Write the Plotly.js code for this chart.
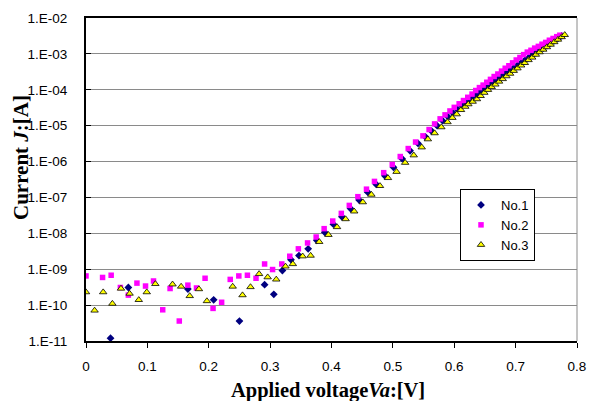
<!DOCTYPE html>
<html>
<head>
<meta charset="utf-8">
<script src="https://cdn.plot.ly/plotly-3.0.1.min.js"></script>
<style>
html,body{margin:0;padding:0;background:#fff;}
#chart{width:590px;height:401px;}
</style>
</head>
<body>
<div id="chart"></div>
<script>
// ---- Data ----
const seriesNames = ["No.1", "No.2", "No.3"];

// No.1 (navy diamonds)
const v1 = [0.040, 0.069, 0.166, 0.208, 0.250,
  0.291, 0.306, 0.320, 0.334, 0.347, 0.362, 0.376, 0.389, 0.403, 0.417, 0.431, 0.445, 0.459, 0.473,
  0.487, 0.501, 0.515, 0.528, 0.541, 0.553, 0.563,
  0.572, 0.581, 0.589, 0.597, 0.604, 0.611, 0.618, 0.625, 0.631, 0.637,
  0.643, 0.649, 0.655, 0.661, 0.667, 0.673, 0.679, 0.685, 0.691, 0.697, 0.703, 0.709, 0.715, 0.721,
  0.727, 0.733, 0.739, 0.745, 0.751, 0.757, 0.763, 0.769, 0.775];
const i1 = [1.2e-11, 3.1e-10, 2.8e-10, 1.4e-10, 3.6e-11,
  3.7e-10, 2.0e-10, 9.2e-10, 1.85e-9, 2.4e-9, 3.7e-9, 6.4e-9, 1.07e-8, 1.8e-8, 2.9e-8, 4.9e-8, 8.5e-8, 1.4e-7, 2.3e-7,
  4.0e-7, 6.9e-7, 1.2e-6, 2.0e-6, 3.2e-6, 4.9e-6, 7.1e-6,
  1.0e-5, 1.38e-5, 1.82e-5, 2.34e-5, 2.95e-5, 3.72e-5, 4.57e-5, 5.62e-5, 6.76e-5, 8.1e-5,
  9.5e-5, 1.12e-4, 1.32e-4, 1.55e-4, 1.82e-4, 2.14e-4, 2.51e-4, 2.95e-4, 3.47e-4, 4.07e-4, 4.79e-4, 5.62e-4, 6.61e-4, 7.76e-4,
  9.12e-4, 1.07e-3, 1.26e-3, 1.45e-3, 1.70e-3, 2.0e-3, 2.34e-3, 2.69e-3, 3.16e-3];

// No.2 (magenta squares)
const v2 = [0, 0.027, 0.041, 0.056, 0.069, 0.083, 0.097, 0.110, 0.125, 0.137, 0.152, 0.166, 0.180, 0.194, 0.207, 0.221, 0.235, 0.249, 0.263, 0.277,
  0.291, 0.304, 0.319, 0.332, 0.346, 0.361, 0.375, 0.388, 0.402, 0.416, 0.429, 0.443, 0.457, 0.470,
  0.485, 0.499, 0.512, 0.525, 0.537, 0.549, 0.559, 0.568, 0.577, 0.585, 0.593, 0.600, 0.608, 0.615, 0.622, 0.629,
  0.635, 0.641, 0.647, 0.653, 0.659, 0.665, 0.671, 0.677, 0.683, 0.689, 0.695, 0.701, 0.707, 0.713, 0.719,
  0.725, 0.731, 0.737, 0.743, 0.749, 0.755, 0.761, 0.767, 0.772];
const i2 = [6.5e-10, 5.9e-10, 6.8e-10, 3.1e-10, 1.9e-10, 4.1e-10, 3.4e-10, 4.7e-10, 7.4e-11, 2.9e-10, 3.6e-11, 3.6e-10, 3.0e-10, 5.6e-10, 8.1e-11, 1.2e-10, 5.2e-10, 6.5e-10, 6.8e-10, 5.6e-10,
  1.4e-9, 9.8e-10, 1.4e-9, 2.3e-9, 3.7e-9, 5.4e-9, 7.9e-9, 1.35e-8, 2.2e-8, 3.6e-8, 6.0e-8, 1.05e-7, 1.7e-7, 2.8e-7,
  4.9e-7, 8.3e-7, 1.38e-6, 2.3e-6, 3.5e-6, 5.2e-6, 7.8e-6, 1.12e-5, 1.55e-5, 2.0e-5, 2.57e-5, 3.24e-5, 4.07e-5, 5.01e-5, 6.17e-5, 7.59e-5,
  9.55e-5, 1.15e-4, 1.35e-4, 1.62e-4, 1.95e-4, 2.34e-4, 2.75e-4, 3.31e-4, 3.98e-4, 4.68e-4, 5.62e-4, 6.76e-4, 7.94e-4, 9.55e-4, 1.12e-3,
  1.26e-3, 1.45e-3, 1.62e-3, 1.86e-3, 2.09e-3, 2.40e-3, 2.69e-3, 3.02e-3, 3.31e-3];

// No.3 (yellow triangles)
const v3 = [0, 0.014, 0.028, 0.043, 0.057, 0.071, 0.086, 0.099, 0.113, 0.141, 0.155, 0.169, 0.184, 0.197, 0.239, 0.255, 0.268, 0.282,
  0.296, 0.310, 0.325, 0.337, 0.353, 0.366, 0.380, 0.395, 0.409, 0.423, 0.437, 0.451, 0.465, 0.479,
  0.492, 0.506, 0.520, 0.534, 0.547, 0.557, 0.568, 0.579, 0.589, 0.597, 0.604, 0.611, 0.618, 0.623, 0.630, 0.637,
  0.643, 0.649, 0.655, 0.661, 0.667, 0.673, 0.679, 0.685, 0.691, 0.697, 0.703, 0.709, 0.715, 0.721,
  0.727, 0.733, 0.739, 0.745, 0.751, 0.757, 0.763, 0.769, 0.775, 0.780];
const i3 = [2.3e-10, 7.1e-11, 2.3e-10, 1.1e-10, 2.9e-10, 2.1e-10, 1.4e-10, 2.3e-10, 3.9e-10, 3.8e-10, 3.3e-10, 1.8e-10, 2.8e-10, 1.3e-10, 3.3e-10, 1.9e-10, 3.2e-10, 7.4e-10,
  6.0e-10, 5.2e-10, 1.2e-9, 1.4e-9, 2.3e-9, 2.4e-9, 5.8e-9, 9.1e-9, 1.5e-8, 2.5e-8, 4.1e-8, 7.4e-8, 1.2e-7, 2.1e-7,
  3.5e-7, 5.2e-7, 9.3e-7, 1.5e-6, 2.5e-6, 4.2e-6, 6.2e-6, 9.1e-6, 1.26e-5, 1.66e-5, 2.09e-5, 2.75e-5, 3.39e-5, 3.98e-5, 4.68e-5, 5.5e-5,
  6.76e-5, 8.3e-5, 1.0e-4, 1.20e-4, 1.41e-4, 1.70e-4, 2.0e-4, 2.40e-4, 2.82e-4, 3.39e-4, 3.98e-4, 4.79e-4, 5.62e-4, 6.76e-4,
  7.94e-4, 9.55e-4, 1.12e-3, 1.32e-3, 1.55e-3, 1.82e-3, 2.14e-3, 2.51e-3, 2.95e-3, 3.39e-3];

// Axis ticks
const yTickVals = [1e-11, 1e-10, 1e-9, 1e-8, 1e-7, 1e-6, 1e-5, 1e-4, 1e-3, 1e-2];
const yTickText = ["1.E-11", "1.E-10", "1.E-09", "1.E-08", "1.E-07", "1.E-06", "1.E-05", "1.E-04", "1.E-03", "1.E-02"];
const xTickVals = [0, 0.1, 0.2, 0.3, 0.4, 0.5, 0.6, 0.7, 0.8];
const xTickText = ["0", "0.1", "0.2", "0.3", "0.4", "0.5", "0.6", "0.7", "0.8"];

const xTitle = "Applied voltage<i>Va</i>:[V]";
const yTitle = "Current <i>J</i>:[A]";

// ---- Traces ----
const traces = [
  {x: v1, y: i1, name: seriesNames[0], type: "scatter", mode: "markers",
   marker: {symbol: "diamond", size: 6, color: "#000080", line: {width: 0}}},
  {x: v2, y: i2, name: seriesNames[1], type: "scatter", mode: "markers",
   marker: {symbol: "square", size: 5.5, color: "#FF00FF", line: {width: 0}}},
  {x: v3, y: i3, name: seriesNames[2], type: "scatter", mode: "markers",
   marker: {symbol: "triangle-up", size: 6.5, color: "#FFFF00", line: {width: 0.8, color: "#000000"}}}
];

const L = 86, R = 577, T = 18, B = 341, W = 590, H = 401;
const tickFont = {family: "Liberation Sans, Arial, sans-serif", size: 13.5, color: "#000"};

const layout = {
  width: W, height: H,
  margin: {l: L, r: W - R, t: T, b: H - B, pad: 0},
  paper_bgcolor: "#ffffff", plot_bgcolor: "#ffffff",
  showlegend: true,
  font: {family: "Liberation Sans, Arial, sans-serif", size: 12, color: "#000"},
  xaxis: {
    range: [0, 0.8], tickvals: xTickVals, ticktext: xTickText,
    showgrid: false, zeroline: false,
    showline: true, linecolor: "#000", linewidth: 2, mirror: true,
    ticks: "outside", ticklen: 5, tickwidth: 1, tickcolor: "#000",
    ticklabelstandoff: 7,
    tickfont: tickFont
  },
  yaxis: {
    type: "log", range: [-11, -2], tickvals: yTickVals, ticktext: yTickText,
    showgrid: true, gridcolor: "#8a8a8a", gridwidth: 1, zeroline: false,
    showline: true, linecolor: "#000", linewidth: 2,
    ticks: "inside", ticklen: 5, tickwidth: 1, tickcolor: "#000",
    ticklabelstandoff: 14,
    tickfont: tickFont
  },
  legend: {
    x: (460 - L) / (R - L), y: (B - 189) / (B - T), xanchor: "left", yanchor: "top",
    bgcolor: "#fff", bordercolor: "#000", borderwidth: 1,
    font: {family: "Liberation Sans, Arial, sans-serif", size: 13, color: "#000"},
    tracegroupgap: 0, itemwidth: 30
  },
  shapes: [
    {type: "line", xref: "paper", yref: "paper", x0: 1, x1: 1, y0: 0, y1: 1,
     line: {color: "#8a8a8a", width: 1}}
  ],
  annotations: [
    {text: yTitle, xref: "paper", yref: "paper", x: (21 - L) / (R - L), y: (B - 158) / (B - T),
     xanchor: "center", yanchor: "middle", textangle: -90, showarrow: false,
     font: {family: "Liberation Serif, Times New Roman, serif", size: 21, color: "#000", weight: "bold"}},
    {text: xTitle, xref: "paper", yref: "paper", x: (328 - L) / (R - L), y: (B - 390) / (B - T),
     xanchor: "center", yanchor: "middle", showarrow: false,
     font: {family: "Liberation Serif, Times New Roman, serif", size: 20.5, color: "#000", weight: "bold"}}
  ]
};

Plotly.newPlot("chart", traces, layout, {displayModeBar: false, staticPlot: true});
</script>
</body>
</html>
